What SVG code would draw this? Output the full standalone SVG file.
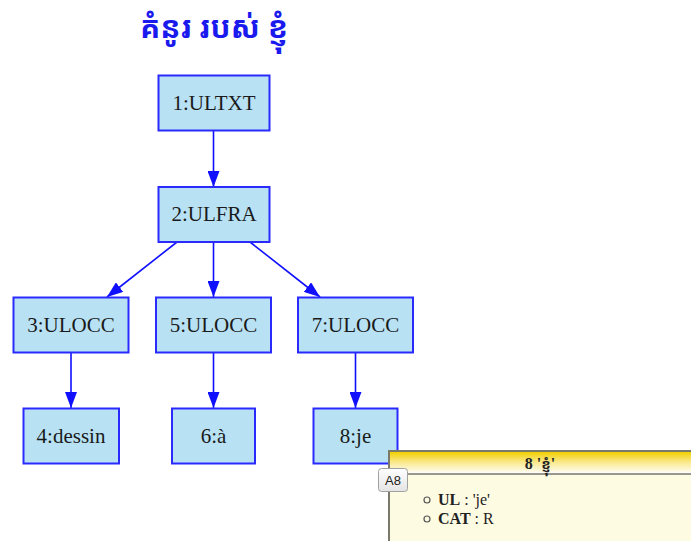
<svg xmlns="http://www.w3.org/2000/svg" width="691" height="541" viewBox="0 0 691 541">
  <defs>
    <marker id="arrow" markerWidth="16" markerHeight="12" refX="16" refY="6" orient="auto" markerUnits="userSpaceOnUse">
      <path d="M0,0 L16,6 L0,12 Z" fill="#1010ff"/>
    </marker>
    <linearGradient id="tipHead" x1="0" y1="0" x2="0" y2="1">
      <stop offset="0" stop-color="#f2cf00"/>
      <stop offset="0.45" stop-color="#fae88a"/>
      <stop offset="1" stop-color="#ffffff"/>
    </linearGradient>
    <linearGradient id="btn" x1="0" y1="0" x2="0" y2="1">
      <stop offset="0" stop-color="#ffffff"/>
      <stop offset="1" stop-color="#e4e4e4"/>
    </linearGradient>
  </defs>
  <style>
    .node rect { fill: #b8e2f4; stroke: #2a2aff; stroke-width: 2; }
    .node text { font-family: "Liberation Serif", "Times New Roman", serif; font-size: 21px; fill: #1a1a1a; text-anchor: middle; }
    .edge { stroke: #1010ff; stroke-width: 1.6; fill: none; marker-end: url(#arrow); }
    .title { font-family: "Noto Sans Khmer", "Khmer OS", "Noto Sans", sans-serif; font-size: 30px; font-weight: bold; fill: #1a1aee; }
    .tip { font-family: "Liberation Serif", "Times New Roman", serif; font-size: 16px; fill: #222; }
  </style>

  <text class="title" x="214" y="38" text-anchor="middle">គំនូរ របស់ ខ្ញុំ</text>

  <g id="connectors">
    <line class="edge" x1="213.5" y1="131" x2="213.5" y2="187"/>
    <line class="edge" x1="177" y1="242" x2="107" y2="297"/>
    <line class="edge" x1="213.5" y1="242" x2="213.5" y2="297"/>
    <line class="edge" x1="250" y1="242" x2="320" y2="297"/>
    <line class="edge" x1="71" y1="353" x2="71" y2="408"/>
    <line class="edge" x1="213.5" y1="353" x2="213.5" y2="408"/>
    <line class="edge" x1="355.5" y1="353" x2="355.5" y2="408"/>
  </g>

  <g id="n1" class="node"><rect x="158.5" y="75.5" width="111" height="55"/><text x="214" y="110">1:ULTXT</text></g>
  <g id="n2" class="node"><rect x="158.5" y="187" width="111" height="55"/><text x="214" y="221">2:ULFRA</text></g>
  <g id="n3" class="node"><rect x="13.5" y="297.5" width="115" height="55"/><text x="71" y="332">3:ULOCC</text></g>
  <g id="n5" class="node"><rect x="156" y="297.5" width="115" height="55"/><text x="213.5" y="332">5:ULOCC</text></g>
  <g id="n7" class="node"><rect x="298" y="297.5" width="115" height="55"/><text x="355.5" y="332">7:ULOCC</text></g>
  <g id="n4" class="node"><rect x="23.5" y="408.5" width="95.5" height="55"/><text x="71" y="443">4:dessin</text></g>
  <g id="n6" class="node"><rect x="172" y="408.5" width="83" height="55"/><text x="213.5" y="443">6:à</text></g>
  <g id="n8" class="node"><rect x="313.5" y="408.5" width="84" height="55"/><text x="355.5" y="443">8:je</text></g>

  <!-- info panel for node 8 -->
  <g id="tooltip">
    <rect x="389" y="451" width="310" height="100" fill="#fdfbe2" stroke="#7a7a6a" stroke-width="2"/>
    <rect x="390" y="452" width="308" height="22" fill="url(#tipHead)"/>
    <line x1="390" y1="474" x2="698" y2="474" stroke="#333" stroke-width="1.2"/>
    <text class="tip" x="540" y="469" text-anchor="middle" font-weight="bold">8 '<tspan font-family="Noto Sans Khmer, Khmer OS, sans-serif" font-size="14">ខ្ញុំ</tspan>'</text>
    <circle cx="427" cy="500" r="3" fill="none" stroke="#555" stroke-width="1.2"/>
    <text class="tip" x="438" y="505"><tspan font-weight="bold">UL</tspan> : 'je'</text>
    <circle cx="427" cy="519" r="3" fill="none" stroke="#555" stroke-width="1.2"/>
    <text class="tip" x="438" y="524"><tspan font-weight="bold">CAT</tspan> : R</text>
  </g>
  <g id="btnA8">
    <rect x="378.5" y="468.5" width="29" height="23" rx="3" fill="url(#btn)" stroke="#a0a0a0"/>
    <text x="393" y="485" text-anchor="middle" font-family="Liberation Sans, Arial, sans-serif" font-size="13" fill="#222">A8</text>
  </g>
</svg>
